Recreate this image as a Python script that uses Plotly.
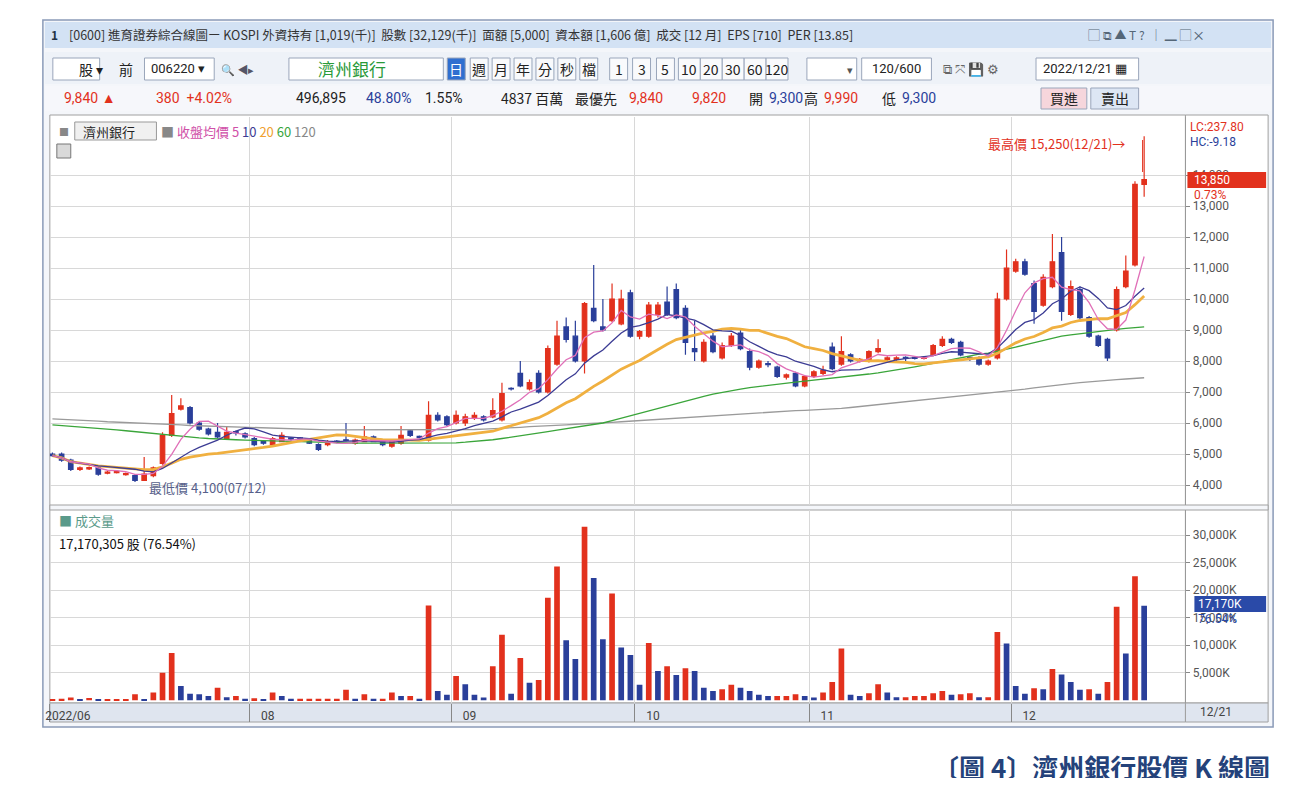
import plotly.graph_objects as go
import pandas as pd

opens  = [5000,5000,4800,4500,4520,4550,4380,4400,4330,4300,4150,4300,4700,5600,6450,6500,6000,5800,5700,5500,
          5720,5650,5500,5400,5300,5400,5520,5520,5450,5300,5300,5420,5460,5350,5400,5550,5400,5250,5350,5750,
          5570,5450,6250,6200,6000,6000,6150,6200,6200,6100,7120,7600,7100,7600,7000,7900,9100,8800,8000,9700,
          9100,9300,9200,10200,8800,8800,9500,9900,10300,9700,8400,8000,8800,8100,8500,8900,8300,7800,7920,7800,
          7480,7600,7200,7500,7600,8450,7900,8200,8000,8000,8300,8050,8050,8120,8120,8080,8200,8500,8700,8600,
          8120,8100,7900,8100,10000,10900,11200,10500,9800,10400,11500,9500,10300,9400,8800,8700,9000,10400,11100,13700]
highs  = [5050,5050,4850,4600,4600,4600,4450,4480,4400,4350,4900,4600,5700,6900,6800,6550,6050,5850,6000,5900,
          5750,5700,5550,5450,5550,5700,5550,5550,5500,5350,5450,5450,6000,5500,5900,5600,5450,5450,5900,5800,
          5600,6700,6350,6250,6400,6300,6350,6250,6800,7300,7150,8000,7400,7700,8500,9300,9400,9300,9900,11100,
          10000,10500,10300,10300,9000,9900,9900,10400,10500,9800,9300,8700,8900,8600,8900,9000,8400,8050,8000,7850,
          7600,7650,7550,7700,7850,8600,8800,8250,8100,8350,8700,8150,8150,8150,8150,8150,8550,8800,8750,8650,
          8150,8150,8050,10200,11600,11300,11300,10600,10800,12100,12000,10600,10400,9450,8850,8750,10400,11400,13800,15250]
lows   = [4900,4750,4450,4450,4480,4300,4350,4370,4300,4100,4130,4250,4650,5550,6400,5950,5750,5600,5500,5450,
          5600,5500,5250,5300,5280,5380,5430,5430,5320,5100,5250,5350,5400,5300,5380,5380,5250,5200,5300,5550,
          5500,5400,6050,5900,5950,5900,6100,6050,6150,6050,7050,7150,7050,6950,6950,7850,8600,7950,7600,9250,
          8950,9250,9150,8750,8700,8750,9400,9450,9350,8200,8000,7950,8250,8050,8450,8350,7700,7750,7800,7450,
          7400,7150,7150,7450,7550,7700,7850,7950,7950,7950,8250,8000,8000,8000,8050,8050,8150,8450,8550,8150,
          8000,7850,7850,8050,9950,10850,10750,9200,9750,10350,9300,9450,9350,8750,8450,8000,8950,10350,11050,13300]
closes = [4950,4800,4500,4550,4560,4350,4420,4440,4370,4150,4350,4550,5600,6300,6550,6000,5800,5650,5550,5700,
          5680,5550,5300,5350,5500,5600,5480,5480,5350,5150,5400,5380,5440,5450,5550,5400,5300,5400,5600,5600,
          5530,6250,6100,5950,6250,6200,6250,6100,6400,6950,7100,7200,7300,7000,8400,8800,8700,8000,9850,9300,
          9000,10000,10000,8800,8950,9800,9800,9500,9400,8600,8300,8600,8300,8500,8800,8400,7800,8000,7880,7500,
          7550,7200,7500,7650,7700,7750,8300,8000,8050,8300,8400,8100,8100,8080,8080,8120,8500,8700,8600,8200,
          8060,7900,8000,10000,11000,11200,10800,9600,10700,11200,9600,10400,9400,8800,8500,8100,10300,10900,13700,13850]
volumes = [200,300,500,100,400,100,100,100,100,1100,200,1400,5000,8600,2600,1200,1100,800,2300,550,
           800,300,350,200,1400,800,300,300,300,300,300,300,1900,300,1100,300,300,1400,800,800,
           300,17200,1700,1000,4400,2900,1000,500,6200,11900,1200,7700,3200,3700,18600,24300,10900,7500,31500,22200,
           11100,19400,9600,8200,2800,10400,5300,6200,4600,5800,5300,2300,1700,2000,2800,2300,1700,1000,800,800,
           800,1100,800,500,1400,3300,9400,1000,800,1300,2900,1400,550,550,800,800,1300,1700,1000,1100,
           1300,550,550,12400,10300,2600,1200,2200,2000,5700,4700,3300,1900,2000,1200,3300,17000,8500,22500,17170]
ma60 = [5940,5920,5900,5880,5860,5830,5800,5780,5750,5720,5690,5660,5620,5590,5560,5540,5520,5500,5480,5470,
        5460,5450,5440,5430,5420,5410,5400,5390,5380,5370,5360,5360,5350,5350,5350,5350,5350,5350,5350,5350,
        5350,5350,5350,5350,5360,5380,5400,5430,5460,5500,5540,5580,5620,5670,5720,5770,5820,5870,5920,5960,
        6000,6080,6160,6240,6320,6400,6480,6560,6640,6720,6800,6860,6930,6990,7040,7090,7140,7180,7220,7260,
        7290,7320,7350,7380,7410,7440,7470,7500,7540,7580,7620,7660,7710,7760,7810,7860,7920,7980,8040,8100,
        8160,8220,8250,8310,8380,8450,8520,8590,8660,8730,8800,8840,8880,8920,8960,8990,9020,9050,9080,9100]
ma120 = [6130,6120,6100,6090,6070,6060,6040,6030,6010,6000,5990,5970,5960,5950,5940,5920,5910,5900,5880,5870,
         5860,5850,5840,5830,5820,5810,5800,5800,5790,5790,5780,5780,5780,5770,5770,5770,5770,5770,5770,5770,
         5770,5770,5770,5770,5770,5780,5790,5800,5810,5830,5840,5860,5880,5890,5910,5930,5940,5960,5970,5990,
         6000,6020,6040,6060,6080,6100,6110,6130,6150,6170,6190,6210,6230,6250,6270,6290,6310,6330,6350,6370,
         6390,6400,6410,6420,6430,6450,6470,6500,6530,6560,6590,6620,6650,6680,6710,6740,6770,6800,6830,6860,
         6890,6920,6950,6980,7010,7050,7090,7130,7170,7210,7240,7270,7300,7330,7350,7380,7400,7420,7440,7460]
month_pos = [-0.28, 21.5, 43.5, 63.5, 82.5, 104.5]
month_labels = ["2022/06", "08", "09", "10", "11", "12"]
price_ticks = list(range(4000, 15000, 1000))
vol_ticks = [5000, 10000, 15000, 20000, 25000, 30000]

OFF = 8  # page body margin
W, H = 1290, 770
def X(p): return (p - OFF) / W
def Y(p): return 1 - (p - OFF) / H

RED, BLUE = "#e2311d", "#2a3f9a"
FONT = "Noto Sans CJK TC"
idx = list(range(len(closes)))
s = pd.Series(closes, dtype=float)
ma5 = s.rolling(5, min_periods=1).mean()
ma10 = s.rolling(10, min_periods=1).mean()
ma20 = s.rolling(20, min_periods=1).mean()
vcol = [RED] + [RED if volumes[i] >= volumes[i-1] else BLUE for i in range(1, len(volumes))]

fig = go.Figure()
fig.add_trace(go.Scatter(x=idx, y=ma120, mode="lines", line=dict(color="#9a9a9a", width=1.3), xaxis="x", yaxis="y"))
fig.add_trace(go.Scatter(x=idx, y=ma60, mode="lines", line=dict(color="#3aa53a", width=1.3), xaxis="x", yaxis="y"))
fig.add_trace(go.Scatter(x=idx, y=ma20, mode="lines", line=dict(color="#f0b040", width=2.8), xaxis="x", yaxis="y"))
fig.add_trace(go.Scatter(x=idx, y=ma10, mode="lines", line=dict(color="#3c3c94", width=1.3), xaxis="x", yaxis="y"))
fig.add_trace(go.Scatter(x=idx, y=ma5, mode="lines", line=dict(color="#e070b8", width=1.3), xaxis="x", yaxis="y"))
fig.add_trace(go.Candlestick(x=idx, open=opens, high=highs, low=lows, close=closes,
    increasing=dict(line=dict(color=RED, width=1.2), fillcolor=RED),
    decreasing=dict(line=dict(color=BLUE, width=1.2), fillcolor=BLUE),
    whiskerwidth=0, xaxis="x", yaxis="y"))
fig.add_trace(go.Bar(x=idx, y=volumes, marker=dict(color=vcol, line=dict(width=0)), width=0.62,
                     xaxis="x2", yaxis="y2"))

xr = [-0.28, 123.5]
grid = "#d8d8d8"
fig.update_layout(
    width=W, height=H, margin=dict(l=0, r=0, t=0, b=0), showlegend=False,
    paper_bgcolor="white", plot_bgcolor="white", font=dict(family=FONT, size=12, color="#222"),
    xaxis=dict(domain=[X(45), X(1185)], range=xr, tickvals=month_pos, showticklabels=False,
               showgrid=True, gridcolor=grid, zeroline=False, rangeslider=dict(visible=False),
               anchor="y", fixedrange=True),
    yaxis=dict(domain=[Y(505), Y(117)], range=[3355, 15871], side="right", tickvals=price_ticks,
               ticktext=[f"{v:,}" for v in price_ticks], showgrid=True, gridcolor=grid, zeroline=False,
               tickfont=dict(size=12, color="#555", family="Roboto"), ticks="outside", ticklen=4,
               tickcolor="#888", anchor="x", showline=True, linecolor="#999"),
    xaxis2=dict(domain=[X(45), X(1185)], range=xr, tickvals=month_pos, ticktext=month_labels,
                showgrid=True, gridcolor=grid, zeroline=False, anchor="y2", ticks="outside", ticklen=18,
                tickcolor="#888", ticklabelshift=18, ticklabelstandoff=-16,
                tickfont=dict(size=12, color="#444", family="Roboto")),
    yaxis2=dict(domain=[Y(703), Y(510)], range=[-490, 34540], side="right", tickvals=vol_ticks,
                ticktext=[f"{v:,}K" for v in vol_ticks], showgrid=True, gridcolor=grid, zeroline=False,
                tickfont=dict(size=12, color="#555", family="Roboto"), ticks="outside", ticklen=4,
                tickcolor="#888", anchor="x2", showline=True, linecolor="#999"),
)

shapes = []
def rect(x0, y0, x1, y1, fill, line="rgba(0,0,0,0)", lw=1, layer="below"):
    shapes.append(dict(type="rect", xref="paper", yref="paper", x0=X(x0), x1=X(x1), y0=Y(y1), y1=Y(y0),
                       fillcolor=fill, line=dict(color=line, width=lw), layer=layer))
rect(38, 20, 1273, 727, "#f4f6fa", "#8a9ab8", 1.5)
rect(40, 22, 1271, 48, "#d3e2f4")
rect(40, 52, 1271, 84, "#eef2f8")
rect(40, 86, 1271, 111, "#f6f7fb")
rect(45, 115, 1185, 703, "white", "#a0a0a0")
rect(1185, 115, 1268, 703, "white", "#a0a0a0")
rect(45, 703, 1185, 722, "#dfe5ef", "#a0a0a0")
rect(1185, 703, 1268, 722, "#dfe5ef", "#a0a0a0")
rect(45, 505, 1268, 510, "#f4f6fa", "#a0a0a0")
for (a, b) in [(48, 95), (140, 210), (285, 440), (805, 855), (860, 930), (1035, 1138)]:
    rect(a, 58, b, 80, "white", "#9aa6bb")
for a in [444, 467, 489, 511, 533, 555, 577, 607, 630, 654, 676, 698, 720, 742, 764]:
    w = 24 if a >= 676 else 20
    rect(a, 58, a + w - 2, 80, "#2f6fd0" if a == 444 else "#f9fafc", "#9aa6bb")
rect(1040, 88, 1086, 109, "#f6d6dc", "#9aa6bb")
rect(1090, 88, 1138, 109, "#dde6f4", "#9aa6bb")
rect(1187, 172, 1266, 188, RED, layer="above")
rect(1194, 596, 1266, 612, "#2a4aa8", layer="above")
rect(70, 122, 152, 140, "#f0f0f0", "#999", layer="above")
rect(52, 144, 66, 158, "#d9d9d9", "#777", layer="above")
shapes.append(dict(type="line", xref="paper", yref="paper", x0=X(1142), x1=X(1142), y0=Y(172), y1=Y(140),
                   line=dict(color=RED, width=1)))
fig.update_layout(shapes=shapes)

ann = []
def T(x, y, text, color="#222", size=13, anchor="left", bold=False, fam=FONT):
    if bold: text = f"<b>{text}</b>"
    ann.append(dict(x=X(x), y=Y(y), xref="paper", yref="paper", text=text, showarrow=False,
                    xanchor=anchor, yanchor="middle", font=dict(size=size, color=color, family=fam)))
T(44, 35, "<b>1</b>", "#234", 12)
T(62, 35, "[0600] 進育證券綜合線圖ー KOSPI 外資持有 [1,019(千)]  股數 [32,129(千)]  面額 [5,000]  資本額 [1,606 億]  成交 [12 月]  EPS [710]  PER [13.85]", "#333", 12.5)
T(1085, 35, "▢ ⧉ ▲ T ?  │ ▁ ▢ ✕", "#567", 12)
T(72, 69, "股 ▾", "#222", 14)
T(112, 69, "前", "#222", 14)
T(145, 69, "006220 ▾", "#222", 13, fam="Roboto")
T(215, 69, "🔍 ◀▸", "#556", 11)
T(312, 69, "濟州銀行", "#2a9a3a", 17)
days = ["日", "週", "月", "年", "分", "秒", "檔", "1", "3", "5", "10", "20", "30", "60", "120"]
for a, d in zip([444, 467, 489, 511, 533, 555, 577, 607, 630, 654, 676, 698, 720, 742, 764], days):
    w = 24 if a >= 676 else 20
    T(a + (w - 2) / 2, 69, d, "white" if d == "日" else "#222", 14, "center")
T(848, 69, "▾", "#555", 11, "center")
T(895, 69, "120/600", "#222", 13, "center", fam="Roboto")
T(940, 69, "⧉ ⤧ 💾 ⚙", "#666", 13)
T(1040, 69, "2022/12/21 ▦", "#222", 13, fam="Roboto")
T(57, 98, "9,840 ▲", RED, 14, fam="Roboto")
T(150, 98, "380  +4.02%", RED, 14, fam="Roboto")
T(290, 98, "496,895", "#222", 14, fam="Roboto")
T(360, 98, "48.80%", "#2a3f9a", 14, fam="Roboto")
T(420, 98, "1.55%", "#222", 14, fam="Roboto")
T(496, 98, "4837 百萬", "#222", 14)
T(570, 98, "最優先", "#222", 14)
T(624, 98, "9,840", RED, 14, fam="Roboto")
T(688, 98, "9,820", RED, 14, fam="Roboto")
T(745, 98, "開", "#222", 14); T(765, 98, "9,300", "#2a3f9a", 14, fam="Roboto")
T(800, 98, "高", "#222", 14); T(820, 98, "9,990", RED, 14, fam="Roboto")
T(878, 98, "低", "#222", 14); T(898, 98, "9,300", "#2a3f9a", 14, fam="Roboto")
T(1063, 98, "買進", "#222", 14, "center"); T(1114, 98, "賣出", "#222", 14, "center")
T(52, 131, "■", "#888", 10)
T(76, 131, "濟州銀行", "#222", 13)
T(155, 131, "<span style='color:#888'>■</span> <span style='color:#d050a8'>收盤均價</span> <span style='color:#d050a8'>5</span> <span style='color:#3c3c94'>10</span> <span style='color:#f0a030'>20</span> <span style='color:#3aa53a'>60</span> <span style='color:#888'>120</span>", "#222", 13)
T(985, 143, "最高價 15,250(12/21)→", RED, 13)
T(143, 487, "最低價 4,100(07/12)", "#56608a", 13)
T(1188, 127, "LC:237.80", RED, 12, fam="Roboto")
T(1188, 142, "HC:-9.18", "#2a3f9a", 12, fam="Roboto")
T(1192, 180, "13,850", "white", 12, fam="Roboto")
T(1192, 195, "0.73%", RED, 12, fam="Roboto")
T(1196, 604, "17,170K", "white", 12, fam="Roboto")
T(1196, 619, "76.54%", "#2a4aa8", 12, fam="Roboto")
T(1198, 712, "12/21", "#444", 12, fam="Roboto")
T(52, 520, "■ 成交量", "#5a9a8a", 13)
T(52, 543, "17,170,305 股 (76.54%)", "#111", 13)
T(1272, 766, "〔圖 4〕濟州銀行股價 K 線圖", "#24427a", 26, "right", bold=True)
fig.update_layout(annotations=ann)

fig.write_html("out.html")
